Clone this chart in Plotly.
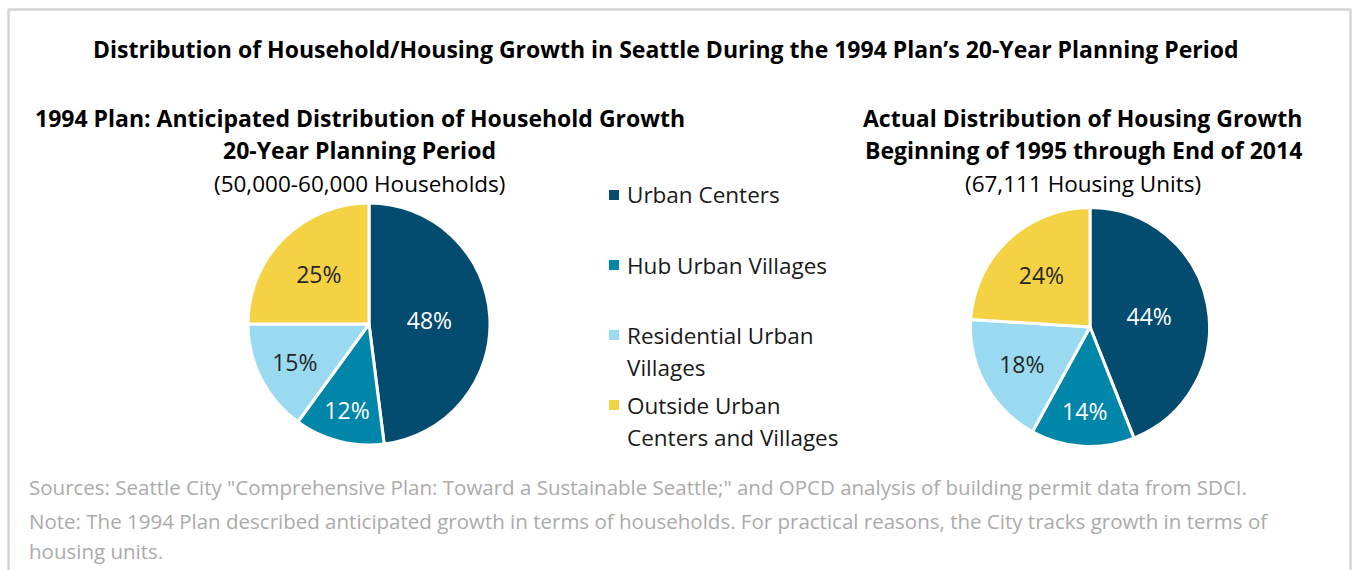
import plotly.graph_objects as go

categories = ["Urban Centers", "Hub Urban Villages", "Residential Urban Villages", "Outside Urban Centers and Villages"]
legend_lines = [["Urban Centers"], ["Hub Urban Villages"], ["Residential Urban", "Villages"], ["Outside Urban", "Centers and Villages"]]
planned_pct = [48, 12, 15, 25]
actual_pct = [44, 14, 18, 24]
colors = ["#034C6F", "#0086A9", "#9ADAF1", "#F5D244"]
text_colors = ["#FFFFFF", "#FFFFFF", "#262626", "#262626"]

main_title = "Distribution of Household/Housing Growth in Seattle During the 1994 Plan\u2019s 20-Year Planning Period"
left_title = ["1994 Plan: Anticipated Distribution of Household Growth", "20-Year Planning Period"]
left_sub = "(50,000-60,000 Households)"
right_title = ["Actual Distribution of Housing Growth", "Beginning of 1995 through End of 2014"]
right_sub = "(67,111 Housing Units)"
notes = [
    "Sources: Seattle City \"Comprehensive Plan: Toward a Sustainable Seattle;\" and OPCD analysis of building permit data from SDCI.",
    "Note: The 1994 Plan described anticipated growth in terms of households. For practical reasons, the City tracks growth in terms of",
    "housing units.",
]

W, H = 1353, 570
FONT = "Open Sans"

def py(y):
    return 1 - y / H

def px(x):
    return x / W

def pie(values, cx, cy, r):
    return go.Pie(
        labels=categories, values=values, sort=False, direction="clockwise", rotation=0,
        marker=dict(colors=colors, line=dict(color="white", width=3)),
        texttemplate="%{value}%", textinfo="text", textposition="inside",
        insidetextorientation="horizontal",
        textfont=dict(family=FONT, size=23, color=text_colors),
        domain=dict(x=[px(cx - r), px(cx + r)], y=[py(cy + r), py(cy - r)]),
        showlegend=False, hoverinfo="label+value",
    )

fig = go.Figure()
fig.add_trace(pie(planned_pct, 369, 324, 121))
fig.add_trace(pie(actual_pct, 1090, 327, 119.5))

ann = []
def text(x, y, s, size=23, bold=False, color="#000000", xanchor="center"):
    ann.append(dict(x=px(x), y=py(y), xref="paper", yref="paper", text=f"<b>{s}</b>" if bold else s,
                    showarrow=False, xanchor=xanchor, yanchor="middle",
                    font=dict(family=FONT, size=size, color=color)))

text(666, 49, main_title, size=23, bold=True)
text(360, 118, left_title[0], size=23, bold=True)
text(360, 150, left_title[1], size=23, bold=True)
text(360, 183, left_sub, size=22.5)
text(1082, 118, right_title[0], size=23, bold=True)
text(1083, 150, right_title[1], size=23, bold=True)
text(1083, 183, right_sub, size=22.5)

shapes = []
legend_y0 = 195
for i, (lines, c) in enumerate(zip(legend_lines, colors)):
    y = legend_y0 + 70 * i
    shapes.append(dict(type="rect", xref="paper", yref="paper", x0=px(609), x1=px(619),
                       y0=py(y + 5), y1=py(y - 5), fillcolor=c, line=dict(width=0)))
    for j, ln in enumerate(lines):
        text(625, y + 32 * j, ln, size=22.5, color="#1a1a1a", xanchor="left")

for k, s in enumerate(notes):
    text(27, [487, 521, 551][k], s, size=20.5, color="#ABABAB", xanchor="left")

# frame
for (x0, y0, x1, y1) in [(8, 9.5, 1351, 9.5), (8.5, 9, 8.5, 600), (1350.5, 9, 1350.5, 600)]:
    shapes.append(dict(type="line", xref="paper", yref="paper", x0=px(x0), x1=px(x1), y0=py(y0), y1=py(y1),
                       line=dict(color="#D4D4D4", width=2.5)))

fig.update_layout(width=W, height=H, margin=dict(l=0, r=0, t=0, b=0),
                  paper_bgcolor="white", plot_bgcolor="white",
                  annotations=ann, shapes=shapes, showlegend=False)
fig.write_html("out.html", config={"displayModeBar": False},
               post_script="document.body.style.margin='0';document.body.style.overflow='hidden';")
